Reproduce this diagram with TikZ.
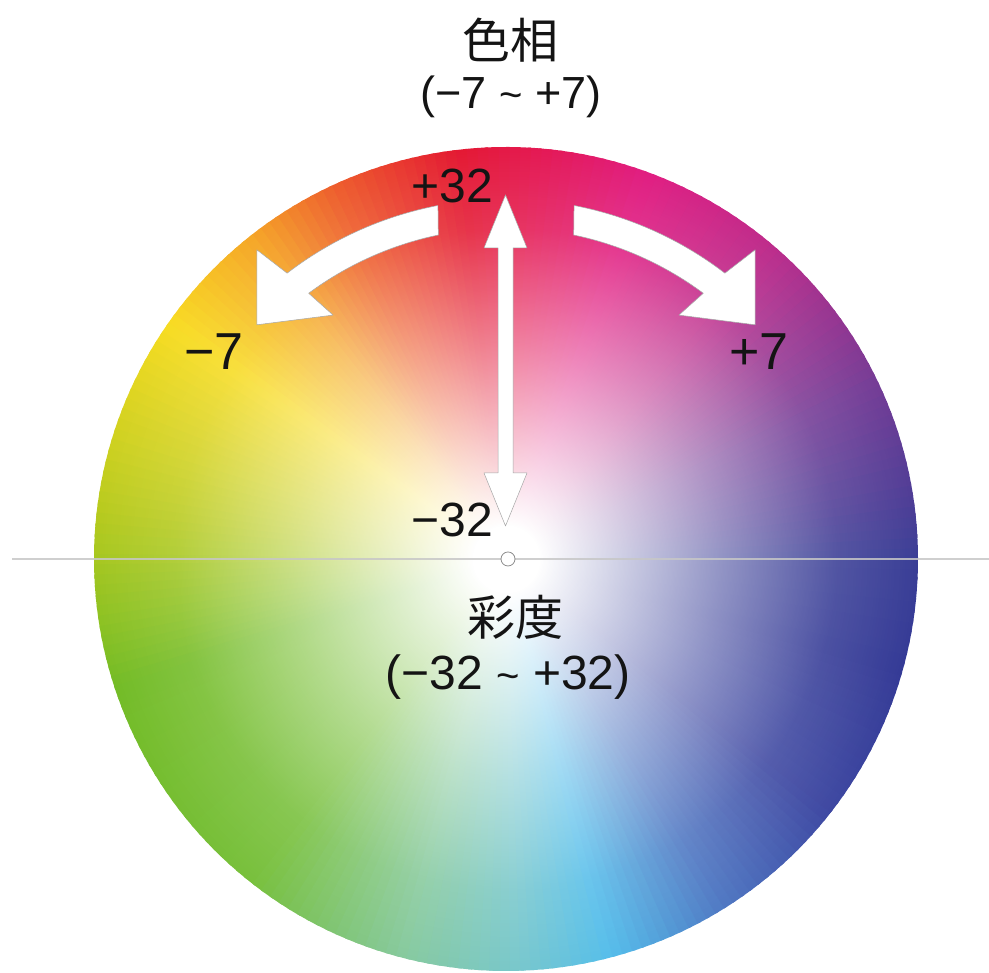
\documentclass[tikz,border=0pt]{standalone}
\usepackage{fontspec}
\setmainfont{Liberation Sans}
\newfontfamily\cjk{Noto Sans CJK JP}
\usetikzlibrary{fadings}
\definecolor{h0}{RGB}{58,62,150}
\definecolor{h1}{RGB}{115,60,150}
\definecolor{h2}{RGB}{190,45,140}
\definecolor{h3}{RGB}{225,30,130}
\definecolor{h4}{RGB}{228,25,85}
\definecolor{h5}{RGB}{228,25,50}
\definecolor{h6}{RGB}{238,95,45}
\definecolor{h7}{RGB}{245,165,40}
\definecolor{h8}{RGB}{248,220,35}
\definecolor{h9}{RGB}{180,202,30}
\definecolor{h10}{RGB}{115,188,38}
\definecolor{h11}{RGB}{120,192,60}
\definecolor{h12}{RGB}{135,202,160}
\definecolor{h13}{RGB}{120,200,205}
\definecolor{h14}{RGB}{85,190,235}
\definecolor{h15}{RGB}{80,120,195}
\definecolor{h16}{RGB}{62,72,162}
\definecolor{h17}{RGB}{52,58,150}
\pgfdeclareradialshading{whiteshade}{\pgfpointorigin}{color(0bp)=(white); color(2bp)=(white); color(6bp)=(white!80!black); color(13bp)=(white!45!black); color(20bp)=(white!12!black); color(25bp)=(black); color(50bp)=(black)}
\pgfdeclarefading{whitefade}{\pgfuseshading{whiteshade}}
\tikzset{
  lbl/.style={font=\fontsize{48}{56}\selectfont, text=black!92, inner sep=0pt},
  cjklbl/.style={font=\cjk\fontsize{48}{56}\selectfont, text=black!92, inner sep=0pt},
  whitearrow/.style={fill=white, draw=black!35, line width=0.5pt, line join=round},
  axisline/.style={draw=black!22, line width=1.5pt, opacity=0.85}
}
\newcommand{\tld}{{\fontsize{40}{48}\selectfont\char"007E}}
\begin{document}
\begin{tikzpicture}[x=1pt,y=1pt]
\useasboundingbox (0,0) rectangle (989,973);
\coordinate (C) at (506,414);
% hue wheel
\begin{scope}[shift={(C)}]
\foreach \a/\b/\ca/\cb in {0/25/h0/h1,25/50/h1/h2,50/70/h2/h3,70/85/h3/h4,85/97/h4/h5,97/115/h5/h6,115/128/h6/h7,128/145/h7/h8,145/175/h8/h9,175/198/h9/h10,198/232/h10/h11,232/256/h11/h12,256/272/h12/h13,272/285/h13/h14,285/302/h14/h15,302/322/h15/h16,322/345/h16/h17,345/360/h17/h0}{
  \pgfmathtruncatemacro{\n}{ceil((\b-\a)/1.5)}
  \foreach \i in {1,...,\n}{
    \pgfmathsetmacro{\s}{\a+(\i-1)*(\b-\a)/\n}
    \pgfmathsetmacro{\e}{\a+\i*(\b-\a)/\n+0.5}
    \pgfmathtruncatemacro{\p}{100-100*(\i-0.5)/\n}
    \fill[\ca!\p!\cb] (0,0) -- (\s:412) arc[start angle=\s, end angle=\e, radius=412] -- cycle;
  }
}
\end{scope}
\fill[white, path fading=whitefade] (C) circle (412);
% axis line
\coordinate (L0) at (12,414);
\coordinate (L1) at (989,414);
\draw[axisline] (L0) -- (L1);
\node[circle, fill=white, draw=black!45, line width=0.8pt, minimum size=14pt, inner sep=0pt] (dot) at (508,414) {};
% vertical double arrow
\path[whitearrow] (498,500) -- (484,500) -- (505.5,447) -- (527,500) -- (513,500) -- (513,725) -- (527,725) -- (505.5,778) -- (484,725) -- (498,725) -- cycle;
% curved arrows
\begin{scope}[shift={(C)}]
\path[whitearrow] (100.9:360) arc[start angle=100.9, end angle=127.45, radius=360] -- (128.86:397) -- (136.78:342) -- (125.34:299) -- (126.6:331) arc[start angle=126.6, end angle=101.8, radius=331] -- cycle;
\path[whitearrow] (79.1:360) arc[start angle=79.1, end angle=52.55, radius=360] -- (51.14:397) -- (43.22:342) -- (54.66:299) -- (53.4:331) arc[start angle=53.4, end angle=78.2, radius=331] -- cycle;
\end{scope}
% labels
\node[cjklbl] (hue) at (510,933) {色相};
\node[lbl, font=\fontsize{45}{52}\selectfont] (huerange) at (511,876) {(−7 \tld{} +7)};
\node[lbl] (p32) at (452,787) {+32};
\node[lbl, font=\fontsize{52}{60}\selectfont] (m7) at (214,621) {−7};
\node[lbl, font=\fontsize{52}{60}\selectfont] (p7) at (759,621) {+7};
\node[lbl] (m32) at (452,453) {−32};
\node[cjklbl] (sat) at (515,356) {彩度};
\node[lbl] (satrange) at (508,296) {(−32 \tld{} +32)};
\end{tikzpicture}
\end{document}
